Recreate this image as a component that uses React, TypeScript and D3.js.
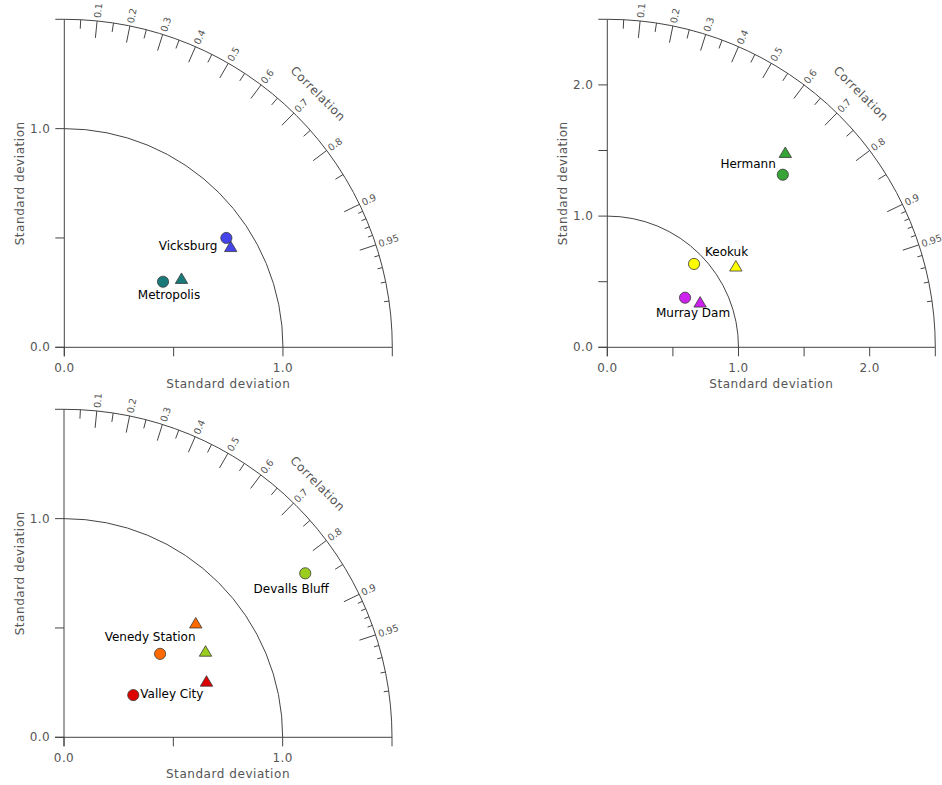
import React from "react";
import * as d3 from "d3";

// ---------- data ----------
const panel1Stations = ["Vicksburg", "Metropolis"];
const panel1Colors = ["#4444ea", "#1a7a7a"];
const panel1CircleStd = [0.894, 0.542];
const panel1CircleCorr = [0.829, 0.833];
const panel1TriStd = [0.889, 0.621];
const panel1TriCorr = [0.856, 0.863];

const panel2Stations = ["Hermann", "Keokuk", "Murray Dam"];
const panel2Colors = ["#36a436", "#ffff00", "#cc22ee"];
const panel2CircleStd = [1.876, 0.917, 0.703];
const panel2CircleCorr = [0.713, 0.721, 0.843];
const panel2TriStd = [2.01, 1.158, 0.786];
const panel2TriCorr = [0.675, 0.846, 0.9];

const panel3Stations = ["Devalls Bluff", "Venedy Station", "Valley City"];
const panel3Colors = ["#9acd1e", "#ff6a00", "#dd0000"];
const panel3CircleStd = [1.334, 0.582, 0.371];
const panel3CircleCorr = [0.827, 0.755, 0.854];
const panel3TriStd = [0.757, 0.797, 0.7];
const panel3TriCorr = [0.855, 0.756, 0.931];

const corrMajor = [0.1, 0.2, 0.3, 0.4, 0.5, 0.6, 0.7, 0.8, 0.9, 0.95];
const corrMedium = [0.05, 0.15, 0.25, 0.35, 0.45, 0.55, 0.65, 0.75, 0.85];
const corrMinor = [0.91, 0.92, 0.93, 0.94, 0.96, 0.97, 0.98, 0.99];

const panel1Max = 1.5;
const panel2Max = 2.5;
const panel3Max = 1.5;
const panel1Ticks = [0, 0.5, 1.0, 1.5];
const panel2Ticks = [0, 0.5, 1.0, 1.5, 2.0, 2.5];
const panel1TickLabels = [0, 1.0];
const panel2TickLabels = [0, 1.0, 2.0];

// ---------- layout (label placement relative to circle marker) ----------
const panel1LabelLayout = [
  { dx: -9, dy: 7.5, anchor: "end" },
  { dx: 6, dy: 13.5, anchor: "middle" },
];
const panel2LabelLayout = [
  { dx: -7, dy: -10.7, anchor: "end" },
  { dx: 11, dy: -12, anchor: "start" },
  { dx: 8, dy: 15.6, anchor: "middle" },
];
const panel3LabelLayout = [
  { dx: -14, dy: 15, anchor: "middle" },
  { dx: -10, dy: -16.7, anchor: "middle" },
  { dx: 7, dy: -1.7, anchor: "start" },
];

const R = 328;
const AXIS = "#444";
const TEXT = "#555";
const FONT = "DejaVu Sans, sans-serif";

type PanelProps = {
  ox: number;
  oy: number;
  max: number;
  ticks: number[];
  tickLabels: number[];
  stations: string[];
  colors: string[];
  cStd: number[];
  cCorr: number[];
  tStd: number[];
  tCorr: number[];
  layout: { dx: number; dy: number; anchor: string }[];
};

function Panel(p: PanelProps) {
  const r = d3.scaleLinear().domain([0, p.max]).range([0, R]);
  const pos = (std: number, corr: number) => {
    const rr = r(std);
    return [rr * corr, -rr * Math.sqrt(1 - corr * corr)];
  };
  const arcPath = (rad: number) => {
    const path = d3.path();
    path.moveTo(0, -rad);
    path.arc(0, 0, rad, -Math.PI / 2, 0);
    return path.toString();
  };
  const radial = (corr: number, r0: number, r1: number) => {
    const s = Math.sqrt(1 - corr * corr);
    return { x1: r0 * corr, y1: -r0 * s, x2: r1 * corr, y2: -r1 * s };
  };
  const fmt = d3.format(".1f");
  const tri = (x: number, y: number) => {
    const w = 6.2;
    const h = 10.5;
    return `M${x},${y - h / 2 - 0.5}L${x + w},${y + h / 2 - 0.5}L${x - w},${y + h / 2 - 0.5}Z`;
  };
  return (
    <g transform={`translate(${p.ox},${p.oy})`}>
      {/* axes */}
      <line x1={0} y1={9} x2={0} y2={-R} stroke={AXIS} strokeWidth={1} />
      <line x1={-9} y1={0} x2={R} y2={0} stroke={AXIS} strokeWidth={1} />
      {p.ticks.map((t) => (
        <g key={"t" + t}>
          <line x1={r(t)} y1={0} x2={r(t)} y2={9} stroke={AXIS} />
          <line x1={-9} y1={-r(t)} x2={0} y2={-r(t)} stroke={AXIS} />
        </g>
      ))}
      {p.tickLabels.map((t) => (
        <g key={"l" + t} fontFamily={FONT} fontSize={12} fill={TEXT} letterSpacing={0.4}>
          <text x={r(t)} y={25} textAnchor="middle">
            {fmt(t)}
          </text>
          <text x={-14} y={-r(t) + 4} textAnchor="end">
            {fmt(t)}
          </text>
        </g>
      ))}
      <text
        x={R / 2}
        y={41}
        textAnchor="middle"
        fontFamily={FONT}
        fontSize={12}
        fill={TEXT}
        letterSpacing={0.55}
      >
        Standard deviation
      </text>
      <text
        transform={`translate(-40,${-R / 2}) rotate(-90)`}
        textAnchor="middle"
        fontFamily={FONT}
        fontSize={12}
        fill={TEXT}
        letterSpacing={0.55}
      >
        Standard deviation
      </text>
      {/* arcs */}
      <path d={arcPath(R)} fill="none" stroke={AXIS} strokeWidth={1} />
      <path d={arcPath(r(1))} fill="none" stroke={AXIS} strokeWidth={1} />
      {corrMajor.map((c) => {
        const l = radial(c, R, R - 17);
        const ang = (Math.acos(c) * 180) / Math.PI;
        const tp = radial(c, R + 3, R + 3);
        return (
          <g key={"cm" + c}>
            <line {...l} stroke={AXIS} />
            <text
              transform={`translate(${tp.x1},${tp.y1}) rotate(${-ang})`}
              dy="0.35em"
              fontFamily={FONT}
              fontSize={9.6}
              letterSpacing={-0.2}
              fill={TEXT}
            >
              {String(c)}
            </text>
          </g>
        );
      })}
      {corrMedium.map((c) => (
        <line key={"cd" + c} {...radial(c, R, R - 9)} stroke={AXIS} />
      ))}
      {corrMinor.map((c) => (
        <line key={"cn" + c} {...radial(c, R, R - 5)} stroke={AXIS} />
      ))}
      {(() => {
        const a = (45 * Math.PI) / 180;
        const rr = R * 1.094;
        return (
          <text
            transform={`translate(${rr * Math.cos(a)},${-rr * Math.sin(a)}) rotate(45)`}
            textAnchor="middle"
            dy="0.35em"
            fontFamily={FONT}
            fontSize={12}
            fill={TEXT}
            letterSpacing={0.5}
          >
            Correlation
          </text>
        );
      })()}
      {/* markers */}
      {p.stations.map((s, i) => {
        const [cx, cy] = pos(p.cStd[i], p.cCorr[i]);
        const [tx, ty] = pos(p.tStd[i], p.tCorr[i]);
        const lay = p.layout[i];
        return (
          <g key={s}>
            <circle cx={cx} cy={cy} r={5.6} fill={p.colors[i]} stroke="#3a3a3a" strokeWidth={0.8} />
            <path d={tri(tx, ty)} fill={p.colors[i]} stroke="#3a3a3a" strokeWidth={0.8} />
            <text
              x={cx + lay.dx}
              y={cy + lay.dy}
              dy="0.35em"
              textAnchor={lay.anchor as any}
              fontFamily={FONT}
              fontSize={12}
              fill="#000"
            >
              {s}
            </text>
          </g>
        );
      })}
    </g>
  );
}

export default function App() {
  return (
    <svg
      width={942}
      height={785}
      style={{ position: "absolute", left: 0, top: 0, background: "#fff" }}
    >
      <rect width={942} height={785} fill="#fff" />
      <Panel
        ox={64.3}
        oy={347.3}
        max={panel1Max}
        ticks={panel1Ticks}
        tickLabels={panel1TickLabels}
        stations={panel1Stations}
        colors={panel1Colors}
        cStd={panel1CircleStd}
        cCorr={panel1CircleCorr}
        tStd={panel1TriStd}
        tCorr={panel1TriCorr}
        layout={panel1LabelLayout}
      />
      <Panel
        ox={607.3}
        oy={347.3}
        max={panel2Max}
        ticks={panel2Ticks}
        tickLabels={panel2TickLabels}
        stations={panel2Stations}
        colors={panel2Colors}
        cStd={panel2CircleStd}
        cCorr={panel2CircleCorr}
        tStd={panel2TriStd}
        tCorr={panel2TriCorr}
        layout={panel2LabelLayout}
      />
      <Panel
        ox={64}
        oy={737.3}
        max={panel3Max}
        ticks={panel1Ticks}
        tickLabels={panel1TickLabels}
        stations={panel3Stations}
        colors={panel3Colors}
        cStd={panel3CircleStd}
        cCorr={panel3CircleCorr}
        tStd={panel3TriStd}
        tCorr={panel3TriCorr}
        layout={panel3LabelLayout}
      />
    </svg>
  );
}
